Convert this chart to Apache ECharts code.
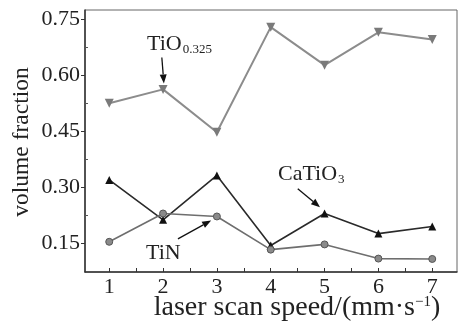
<!DOCTYPE html>
<html>
<head>
<meta charset="utf-8">
<script src="https://cdn.jsdelivr.net/npm/echarts@6/dist/echarts.min.js"></script>
<style>
  html, body { margin: 0; padding: 0; background: #fff; }
  #chart { width: 458px; height: 323px; }
</style>
</head>
<body>
<div id="chart"></div>
<script>
const speeds = [1, 2, 3, 4, 5, 6, 7]
const tio = [0.525, 0.562, 0.447, 0.729, 0.627, 0.715, 0.696]
const catio3 = [0.319, 0.212, 0.331, 0.143, 0.229, 0.175, 0.194]
const tin = [0.153, 0.229, 0.221, 0.132, 0.146, 0.108, 0.107]
const yLabels = [0.15, 0.30, 0.45, 0.60, 0.75]
const yMinor = [0.225, 0.375, 0.525, 0.675]
const xTicks = [1, 1.5, 2, 2.5, 3, 3.5, 4, 4.5, 5, 5.5, 6, 6.5, 7]

const FONT = '"Liberation Serif", "DejaVu Serif", serif'
const pairs = arr => speeds.map((s, i) => [s, arr[i]])

const chart = echarts.init(document.getElementById('chart'))

const option = {
  animation: false,
  grid: {
    left: 85, right: 1, top: 10, bottom: 51,
    outerBoundsMode: 'none',
    containLabel: false,
    show: true, borderColor: '#666', borderWidth: 1
  },
  xAxis: {
    type: 'value',
    min: 0.55, max: 7.46,
    splitLine: { show: false },
    axisLine: { lineStyle: { color: '#333', width: 1.5 } },
    axisTick: { inside: true, length: 4, customValues: xTicks, lineStyle: { color: '#333' } },
    axisLabel: { customValues: speeds, margin: 4, color: '#222', fontFamily: FONT, fontSize: 22 }
  },
  yAxis: [{
    type: 'value',
    min: 0.072, max: 0.775,
    splitLine: { show: false },
    axisLine: { show: true, lineStyle: { color: '#333', width: 1.5 } },
    axisTick: { length: 4, customValues: yLabels, lineStyle: { color: '#333' } },
    axisLabel: {
      customValues: yLabels, margin: 5, color: '#222', fontFamily: FONT, fontSize: 22,
      formatter: v => v.toFixed(2)
    }
  }, {
    type: 'value',
    position: 'left',
    min: 0.072, max: 0.775,
    splitLine: { show: false },
    axisLine: { show: false },
    axisTick: { inside: true, length: 3, customValues: yMinor, lineStyle: { color: '#555' } },
    axisLabel: { show: false }
  }],
  series: [
    {
      name: 'TiO0.325', type: 'line', data: pairs(tio),
      symbol: 'triangle', symbolRotate: 180, symbolSize: 9,
      lineStyle: { color: '#8c8c8c', width: 2 },
      itemStyle: { color: '#7a7a7a' }
    },
    {
      name: 'CaTiO3', type: 'line', data: pairs(catio3),
      symbol: 'triangle', symbolSize: 8,
      lineStyle: { color: '#2a2a2a', width: 1.6 },
      itemStyle: { color: '#111' }
    },
    {
      name: 'TiN', type: 'line', data: pairs(tin),
      symbol: 'circle', symbolSize: 7,
      lineStyle: { color: '#6e6e6e', width: 1.6 },
      itemStyle: { color: '#8a8a8a', borderColor: '#555', borderWidth: 1 }
    }
  ]
}

chart.setOption(option)

// arrows + labels, anchored to data points
function arrow(tip, dx, dy, len) {
  const d = Math.hypot(dx, dy)
  const ux = dx / d, uy = dy / d
  const end = [tip[0] - ux * 2, tip[1] - uy * 2]
  const start = [end[0] - ux * len, end[1] - uy * len]
  const hl = 9, hw = 3.5
  const base = [end[0] - ux * hl, end[1] - uy * hl]
  return [
    { type: 'line', shape: { x1: start[0], y1: start[1], x2: base[0], y2: base[1] }, style: { stroke: '#111', lineWidth: 1.3 } },
    { type: 'polygon', shape: { points: [end, [base[0] - uy * hw, base[1] + ux * hw], [base[0] + uy * hw, base[1] - ux * hw]] }, style: { fill: '#111' } }
  ]
}

const pTio = chart.convertToPixel({ gridIndex: 0 }, [speeds[1], tio[1]])
const pTin = chart.convertToPixel({ gridIndex: 0 }, [speeds[2], tin[2]])
const pCa = chart.convertToPixel({ gridIndex: 0 }, [speeds[4], catio3[4]])

const rich = {
  m: { fontFamily: FONT, fontSize: 22, fill: '#222' },
  s: { fontFamily: FONT, fontSize: 13, fill: '#222', padding: [12, 0, 0, 1] },
  t: { fontFamily: FONT, fontSize: 28, fill: '#222' },
  sup: { fontFamily: FONT, fontSize: 15, fill: '#222', padding: [0, 0, 12, 0] }
}

chart.setOption({
  graphic: [
    ...arrow([pTio[0] + 1, pTio[1] - 4], 0.08, 1, 26),
    ...arrow([pTin[0] - 4, pTin[1] + 3], 1.8, -1, 38),
    ...arrow([pCa[0] - 3, pCa[1] - 5], 1.2, 1, 29),
    { type: 'text', left: 147, top: 33, style: { text: '{m|TiO}{s|0.325}', rich } },
    { type: 'text', left: 146, top: 242, style: { text: '{m|TiN}', rich } },
    { type: 'text', left: 278, top: 163, style: { text: '{m|CaTiO}{s|3}', rich } },
    {
      type: 'text', x: 22, y: 142, rotation: Math.PI / 2,
      style: { text: 'volume fraction', font: '23.5px ' + FONT, fill: '#222', align: 'center', verticalAlign: 'middle' }
    },
    {
      type: 'text', x: 297, y: 308,
      style: { text: '{t|laser scan speed/(mm·s}{sup|−1}{t|)}', rich, align: 'center', verticalAlign: 'middle' }
    }
  ]
})
</script>
</body>
</html>
